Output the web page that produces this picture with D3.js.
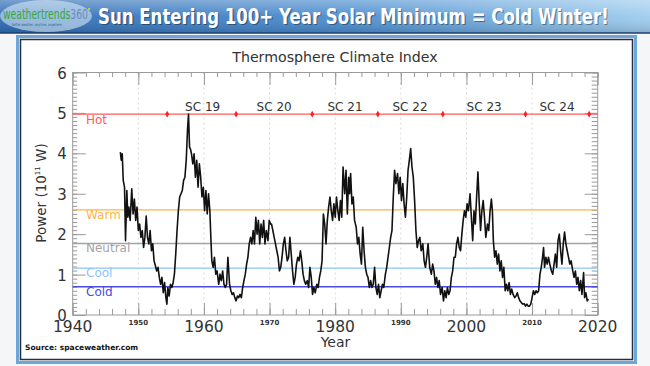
<!DOCTYPE html>
<html><head><meta charset="utf-8">
<script src="https://cdn.jsdelivr.net/npm/d3@7"></script>
<style>
html,body{margin:0;padding:0;background:#fff;}
svg{display:block;}
text{font-family:"DejaVu Sans",sans-serif;}
</style></head>
<body><svg id="c" width="650" height="366"></svg>
<script>
// ---------- data ----------
const headline = "Sun Entering 100+ Year Solar Minimum = Cold Winter!";
const chartTitle = "Thermosphere Climate Index";
const sourceText = "Source: spaceweather.com";
const yTicks = [0,1,2,3,4,5,6];
const xMajorLabels = [1940,1960,1980,2000,2020];
const xMinorLabels = [1950,1970,1990,2010];
const levelNames = ["Hot","Warm","Neutral","Cool","Cold"];
const levelValues = [4.97,2.6,1.77,1.16,0.7];
const cycleNames = ["SC 19","SC 20","SC 21","SC 22","SC 23","SC 24"];
const cycleLabelYears = [1959.8,1970.7,1981.5,1991.4,2002.7,2013.8];
const cycleBoundaries = [1954.4,1964.9,1976.5,1986.5,1996.4,2009.0,2018.7];

const sc18 = [[1947.26,4.03],[1947.4,3.83],[1947.55,3.99],[1947.7,3.33],[1947.9,3.16],[1948.05,1.84],[1948.25,3.08],[1948.4,2.42],[1948.55,2.67],[1948.75,2.34],[1949.0,3.12],[1949.2,2.5],[1949.4,2.87],[1949.6,2.34],[1949.8,2.67],[1950.0,2.09],[1950.2,2.25],[1950.4,1.92],[1950.6,2.09],[1950.8,1.67],[1951.0,1.92],[1951.2,2.45],[1951.4,1.92],[1951.6,1.76],[1951.8,2.09],[1952.0,1.59],[1952.2,1.76],[1952.4,1.34],[1952.6,1.22],[1952.8,1.09],[1953.0,1.18],[1953.2,0.93],[1953.4,0.76],[1953.6,0.93],[1953.8,0.55],[1954.0,0.80],[1954.2,0.43],[1954.35,0.27]];
const sc19 = [[1954.5,0.68],[1954.7,0.47],[1954.9,0.76],[1955.1,0.68],[1955.3,0.80],[1955.5,1.01],[1955.7,1.51],[1955.9,2.09],[1956.1,2.58],[1956.3,2.92],[1956.5,3.0],[1956.7,3.08],[1956.9,3.33],[1957.1,3.41],[1957.3,3.83],[1957.5,4.6],[1957.65,4.97],[1957.8,4.16],[1957.95,4.1],[1958.1,3.99],[1958.3,3.74],[1958.5,3.99],[1958.7,3.41],[1958.9,3.83],[1959.1,3.16],[1959.3,3.74],[1959.5,3.41],[1959.7,2.92],[1959.9,3.16],[1960.1,2.58],[1960.3,3.08],[1960.5,2.5],[1960.7,3.0],[1960.9,2.58],[1961.05,1.92],[1961.2,1.34],[1961.4,1.18],[1961.6,1.43],[1961.8,1.01],[1962.0,1.09],[1962.25,0.76],[1962.45,1.01],[1962.65,0.85],[1962.85,1.09],[1963.05,0.76],[1963.25,0.68],[1963.45,0.76],[1963.65,1.43],[1963.9,0.76],[1964.1,0.60],[1964.3,0.51],[1964.5,0.55],[1964.7,0.43],[1964.9,0.35]];
const sc20 = [[1965.1,0.47],[1965.3,0.43],[1965.5,0.51],[1965.7,0.43],[1965.9,0.68],[1966.1,0.85],[1966.3,1.01],[1966.5,1.26],[1966.7,1.43],[1966.9,1.76],[1967.1,1.92],[1967.3,1.76],[1967.5,2.09],[1967.7,1.76],[1967.9,2.42],[1968.1,2.0],[1968.3,2.34],[1968.5,1.76],[1968.7,2.25],[1968.9,1.92],[1969.1,2.34],[1969.3,1.76],[1969.5,2.09],[1969.75,1.84],[1969.95,2.34],[1970.15,2.25],[1970.3,2.25],[1970.5,2.09],[1970.7,1.92],[1970.9,1.76],[1971.1,1.59],[1971.3,1.43],[1971.5,1.09],[1971.7,1.18],[1971.9,1.43],[1972.1,1.76],[1972.3,1.92],[1972.5,1.59],[1972.7,1.34],[1972.9,1.43],[1973.1,1.92],[1973.3,1.51],[1973.5,1.09],[1973.7,0.76],[1973.9,0.93],[1974.1,1.26],[1974.3,1.43],[1974.5,1.34],[1974.7,1.59],[1974.9,1.34],[1975.1,1.01],[1975.3,0.85],[1975.5,0.76],[1975.75,0.85],[1975.95,0.68],[1976.15,1.18],[1976.35,0.93],[1976.55,0.51]];
const sc21 = [[1976.75,0.68],[1976.95,0.55],[1977.2,0.76],[1977.4,0.68],[1977.6,0.93],[1977.8,1.09],[1978.0,1.34],[1978.2,2.5],[1978.4,2.25],[1978.6,1.76],[1978.8,2.34],[1979.0,2.67],[1979.2,2.92],[1979.4,2.58],[1979.6,2.34],[1979.8,2.75],[1980.0,2.42],[1980.2,2.92],[1980.4,2.58],[1980.6,2.34],[1980.8,2.83],[1981.0,2.42],[1981.2,3.66],[1981.45,3.0],[1981.65,3.58],[1981.85,2.5],[1982.05,3.41],[1982.2,3.0],[1982.35,3.5],[1982.55,2.75],[1982.75,2.92],[1982.95,2.34],[1983.2,2.17],[1983.4,1.76],[1983.6,1.92],[1983.8,1.51],[1984.0,1.26],[1984.2,2.17],[1984.4,1.59],[1984.6,1.18],[1984.8,1.01],[1985.0,0.93],[1985.2,0.68],[1985.4,0.85],[1985.6,0.68],[1985.8,0.76],[1986.0,1.18],[1986.2,0.68],[1986.4,0.51]];
const sc22 = [[1986.6,0.76],[1986.8,0.43],[1987.0,0.6],[1987.2,0.76],[1987.4,0.68],[1987.65,1.01],[1987.85,1.18],[1988.05,1.43],[1988.25,1.67],[1988.45,1.92],[1988.65,2.09],[1988.85,2.92],[1989.05,3.58],[1989.25,3.25],[1989.5,3.5],[1989.7,3.0],[1989.9,3.41],[1990.1,2.83],[1990.3,3.25],[1990.5,2.75],[1990.7,2.42],[1990.9,2.92],[1991.1,3.58],[1991.3,3.83],[1991.5,4.12],[1991.7,3.66],[1991.9,3.41],[1992.1,2.83],[1992.3,2.09],[1992.5,1.67],[1992.7,1.84],[1992.9,1.92],[1993.1,1.59],[1993.35,1.76],[1993.55,1.34],[1993.75,1.18],[1993.95,1.43],[1994.15,1.76],[1994.4,1.18],[1994.65,1.01],[1994.85,1.26],[1995.05,1.09],[1995.25,0.76],[1995.45,0.93],[1995.65,0.68],[1995.85,0.85],[1996.05,0.51],[1996.3,0.68]];
const sc23 = [[1996.5,0.35],[1996.7,0.6],[1996.9,0.43],[1997.1,0.68],[1997.3,0.51],[1997.5,0.6],[1997.7,0.93],[1997.9,1.09],[1998.1,1.43],[1998.3,1.43],[1998.5,1.76],[1998.7,1.92],[1998.9,1.67],[1999.1,1.59],[1999.3,2.0],[1999.5,2.34],[1999.7,2.58],[1999.9,2.42],[2000.1,2.75],[2000.3,2.58],[2000.55,3.0],[2000.75,2.42],[2000.95,1.84],[2001.15,2.58],[2001.35,2.25],[2001.55,2.92],[2001.75,3.54],[2001.95,2.75],[2002.15,2.09],[2002.35,2.58],[2002.55,2.83],[2002.75,2.42],[2002.95,1.92],[2003.2,2.25],[2003.4,2.09],[2003.6,2.58],[2003.8,2.87],[2003.95,2.58],[2004.1,1.84],[2004.3,1.43],[2004.5,1.59],[2004.7,1.26],[2004.9,1.51],[2005.1,1.09],[2005.3,1.34],[2005.5,0.93],[2005.7,1.18],[2005.9,0.6],[2006.1,0.76],[2006.3,0.6],[2006.5,0.8],[2006.7,0.51],[2006.9,0.64],[2007.1,0.51],[2007.35,0.43],[2007.55,0.47],[2007.75,0.55],[2007.95,0.43],[2008.15,0.35],[2008.35,0.31],[2008.55,0.27],[2008.8,0.28],[2009.0,0.22]];
const sc24 = [[2009.2,0.27],[2009.4,0.22],[2009.6,0.22],[2009.8,0.27],[2010.0,0.43],[2010.2,0.6],[2010.4,0.51],[2010.6,0.6],[2010.8,0.55],[2011.0,0.6],[2011.2,1.01],[2011.4,1.18],[2011.6,1.43],[2011.75,1.67],[2011.9,1.18],[2012.1,1.43],[2012.3,1.26],[2012.5,1.43],[2012.7,1.26],[2012.95,1.09],[2013.15,1.01],[2013.35,1.26],[2013.55,1.51],[2013.75,1.18],[2013.95,1.84],[2014.15,2.0],[2014.35,1.59],[2014.55,1.26],[2014.75,1.76],[2014.95,2.05],[2015.15,1.76],[2015.35,1.59],[2015.55,1.43],[2015.75,1.26],[2015.95,1.34],[2016.2,1.09],[2016.4,0.93],[2016.6,1.09],[2016.8,0.76],[2017.0,0.93],[2017.2,0.6],[2017.4,0.85],[2017.6,0.51],[2017.85,1.05],[2018.0,0.43],[2018.2,0.55],[2018.4,0.35],[2018.6,0.39]];

// ---------- drawing ----------
const svg = d3.select("#c");
const defs = svg.append("defs");
const hg = defs.append("linearGradient").attr("id","hdr").attr("x1","0").attr("x2","1").attr("y1","0").attr("y2","0");
hg.append("stop").attr("offset","0").attr("stop-color","#2f6cb4");
hg.append("stop").attr("offset","0.55").attr("stop-color","#4d8fd0");
hg.append("stop").attr("offset","1").attr("stop-color","#9fcdee");
const hv = defs.append("linearGradient").attr("id","hdrv").attr("x1","0").attr("x2","0").attr("y1","0").attr("y2","1");
hv.append("stop").attr("offset","0").attr("stop-color","#fff").attr("stop-opacity",0.35);
hv.append("stop").attr("offset","0.5").attr("stop-color","#fff").attr("stop-opacity",0.05);
hv.append("stop").attr("offset","1").attr("stop-color","#000").attr("stop-opacity",0.15);

// page background
svg.append("rect").attr("width",650).attr("height",366).attr("fill","#f4f6f8");
// header
svg.append("rect").attr("x",0).attr("y",0).attr("width",650).attr("height",33).attr("fill","url(#hdr)");
svg.append("rect").attr("x",0).attr("y",0).attr("width",650).attr("height",33).attr("fill","url(#hdrv)");
svg.append("line").attr("x1",0).attr("x2",650).attr("y1",33).attr("y2",33).attr("stroke","#1d3f6e").attr("stroke-width",1.5);

// helper: fit a text horizontally to a given width via scale
function fitText(parent, tx, ty, width, build){
  const gg = parent.append("g");
  const t = build(gg.append("text").attr("x",0).attr("y",0));
  const len = t.node().getComputedTextLength();
  gg.attr("transform",`translate(${tx},${ty}) scale(${width/len},1)`);
  return gg;
}
// logo
svg.append("ellipse").attr("cx",46).attr("cy",16).attr("rx",46).attr("ry",16).attr("fill","#d6e8f5").attr("opacity",0.6);
fitText(svg, 3, 19, 85, t=>{
  t.attr("font-family","Lato, sans-serif").attr("font-size",14);
  t.append("tspan").attr("fill","#3aa640").text("weathertrends");
  t.append("tspan").attr("fill","#6a8fbf").text("360");
  return t;
});
svg.append("circle").attr("cx",89).attr("cy",9).attr("r",1.2).attr("fill","#b9d532");
fitText(svg, 12, 26, 50, t=>t.attr("font-size",4).attr("fill","#2d5f8f").text("better weather, anytime, anywhere"));
// headline
fitText(svg, 99.2, 25.2, 511, t=>t.attr("font-family","Open Sans, sans-serif").attr("font-weight",700)
  .attr("font-size",21).attr("fill","#000").attr("opacity",0.35).text(headline));
fitText(svg, 98, 24, 511, t=>t.attr("font-family","Open Sans, sans-serif").attr("font-weight",700)
  .attr("font-size",21).attr("fill","#ffffff").text(headline));

// frame
svg.append("rect").attr("x",17.5).attr("y",36.5).attr("width",618).attr("height",326).attr("fill","none").attr("stroke","#6ea6d8").attr("stroke-width",3);
svg.append("rect").attr("x",20.5).attr("y",39.5).attr("width",612).attr("height",320).attr("fill","#ffffff").attr("stroke","#1f2f44").attr("stroke-width",1.5);

// scales
const x = d3.scaleLinear().domain([1940,2020]).range([72.7,597.7]);
const y = d3.scaleLinear().domain([0,6]).range([315,72.5]);
const g = svg.append("g");
const axisColor = "#9a9a9a";

// decade grid (dotted)
g.selectAll("line.grid").data(d3.range(1950,2020,10)).join("line")
  .attr("x1",d=>x(d)).attr("x2",d=>x(d)).attr("y1",y(6)).attr("y2",y(0))
  .attr("stroke","#cfcfcf").attr("stroke-width",0.8).attr("stroke-dasharray","2,3");

// axes with D3
const xMinorTicks = d3.range(1940,2021,2);
const yMinorTicks = d3.range(0,6.001,0.1).map(v=>+v.toFixed(1));
function styleAxis(sel){
  sel.select(".domain").remove();
  sel.selectAll(".tick line").attr("stroke",axisColor).attr("stroke-width",1);
  sel.selectAll(".tick text").remove();
}
g.append("g").attr("transform",`translate(0,${y(0)})`).call(d3.axisBottom(x).tickValues(xMinorTicks).tickSize(-6)).call(styleAxis);
g.append("g").attr("transform",`translate(0,${y(0)})`).call(d3.axisBottom(x).tickValues(d3.range(1940,2021,10)).tickSize(-12)).call(styleAxis);
g.append("g").attr("transform",`translate(0,${y(6)})`).call(d3.axisTop(x).tickValues(xMinorTicks).tickSize(-4.5)).call(styleAxis);
g.append("g").attr("transform",`translate(0,${y(6)})`).call(d3.axisTop(x).tickValues(d3.range(1940,2021,10)).tickSize(-12.5)).call(styleAxis);
g.append("g").attr("transform",`translate(${x(1940)},0)`).call(d3.axisLeft(y).tickValues(yMinorTicks).tickSize(-4.5)).call(styleAxis);
g.append("g").attr("transform",`translate(${x(1940)},0)`).call(d3.axisLeft(y).tickValues(yTicks).tickSize(-13)).call(styleAxis);
g.append("g").attr("transform",`translate(${x(2020)},0)`).call(d3.axisRight(y).tickValues(yMinorTicks).tickSize(-6)).call(styleAxis);
g.append("g").attr("transform",`translate(${x(2020)},0)`).call(d3.axisRight(y).tickValues(yTicks).tickSize(-13)).call(styleAxis);
// box
g.append("rect").attr("x",x(1940)).attr("y",y(6)).attr("width",x(2020)-x(1940)).attr("height",y(0)-y(6))
  .attr("fill","none").attr("stroke",axisColor).attr("stroke-width",1);

// tick labels
g.selectAll("text.ylab").data(yTicks).join("text")
  .attr("text-anchor","end").attr("font-size",15).attr("fill","#333")
  .attr("transform",d=>`translate(${x(1940)-6},${y(d)+6})`).text(d=>d);
g.selectAll("text.xbig").data(xMajorLabels).join("text")
  .attr("text-anchor","middle").attr("font-size",15.5).attr("fill","#333")
  .attr("x",d=>x(d)).attr("y",y(0)+16.5).text(d=>d);
g.selectAll("text.xsmall").data(xMinorLabels).join("text")
  .attr("text-anchor","middle").attr("font-size",7).attr("font-weight","bold").attr("fill","#333")
  .attr("x",d=>x(d)).attr("y",y(0)+10).text(d=>d);

// axis titles
g.append("text").attr("text-anchor","middle").attr("font-size",14).attr("fill","#333")
  .attr("x",x(2000)-131).attr("y",y(0)+32).text("Year");
const yl = g.append("text").attr("text-anchor","middle").attr("font-size",13.5).attr("fill","#333")
  .attr("transform",`translate(46,193) rotate(-90)`);
yl.append("tspan").text("Power (10");
yl.append("tspan").attr("font-size",7).attr("dy",-6).text("11");
yl.append("tspan").attr("dy",6).text(" W)");
g.append("text").attr("x",335).attr("y",62).attr("text-anchor","middle").attr("font-size",14.2).attr("fill","#333").text(chartTitle);

// level lines
const levelColors = ["#ff5a5a","#ffb347","#a3a3a3","#8cc4ff","#4a4ae0"];
const labelOffsets = [10,9,9,9,9];
levelValues.forEach((v,i)=>{
  g.append("line").attr("x1",x(1940)).attr("x2",x(2020)).attr("y1",y(v)).attr("y2",y(v))
    .attr("stroke",levelColors[i]).attr("stroke-width",1.4);
  g.append("text").attr("x",86).attr("y",y(v)+labelOffsets[i]).attr("font-size",12)
    .attr("fill",levelColors[i]).text(levelNames[i]);
});
// cycle boundary markers
g.selectAll("path.mk").data(cycleBoundaries).join("path")
  .attr("d",d3.symbol().type(d3.symbolDiamond).size(14))
  .attr("transform",d=>`translate(${x(d)},${y(levelValues[0])})`).attr("fill","#ff2020");
g.selectAll("text.sc").data(cycleNames).join("text")
  .attr("x",(d,i)=>x(cycleLabelYears[i])).attr("y",y(levelValues[0])-3).attr("text-anchor","middle")
  .attr("font-size",12).attr("fill","#333").text(d=>d);

// series
const series = [].concat(sc18,sc19,sc20,sc21,sc22,sc23,sc24);
g.append("path").datum(series)
  .attr("d",d3.line().x(d=>x(d[0])).y(d=>y(d[1])))
  .attr("fill","none").attr("stroke","#111").attr("stroke-width",1.6).attr("stroke-linejoin","round");

// source
svg.append("text").attr("x",25).attr("y",350).attr("font-family","Open Sans, sans-serif").attr("font-weight",700)
  .attr("font-size",7.5).attr("fill","#111").text(sourceText);
</script></body></html>
